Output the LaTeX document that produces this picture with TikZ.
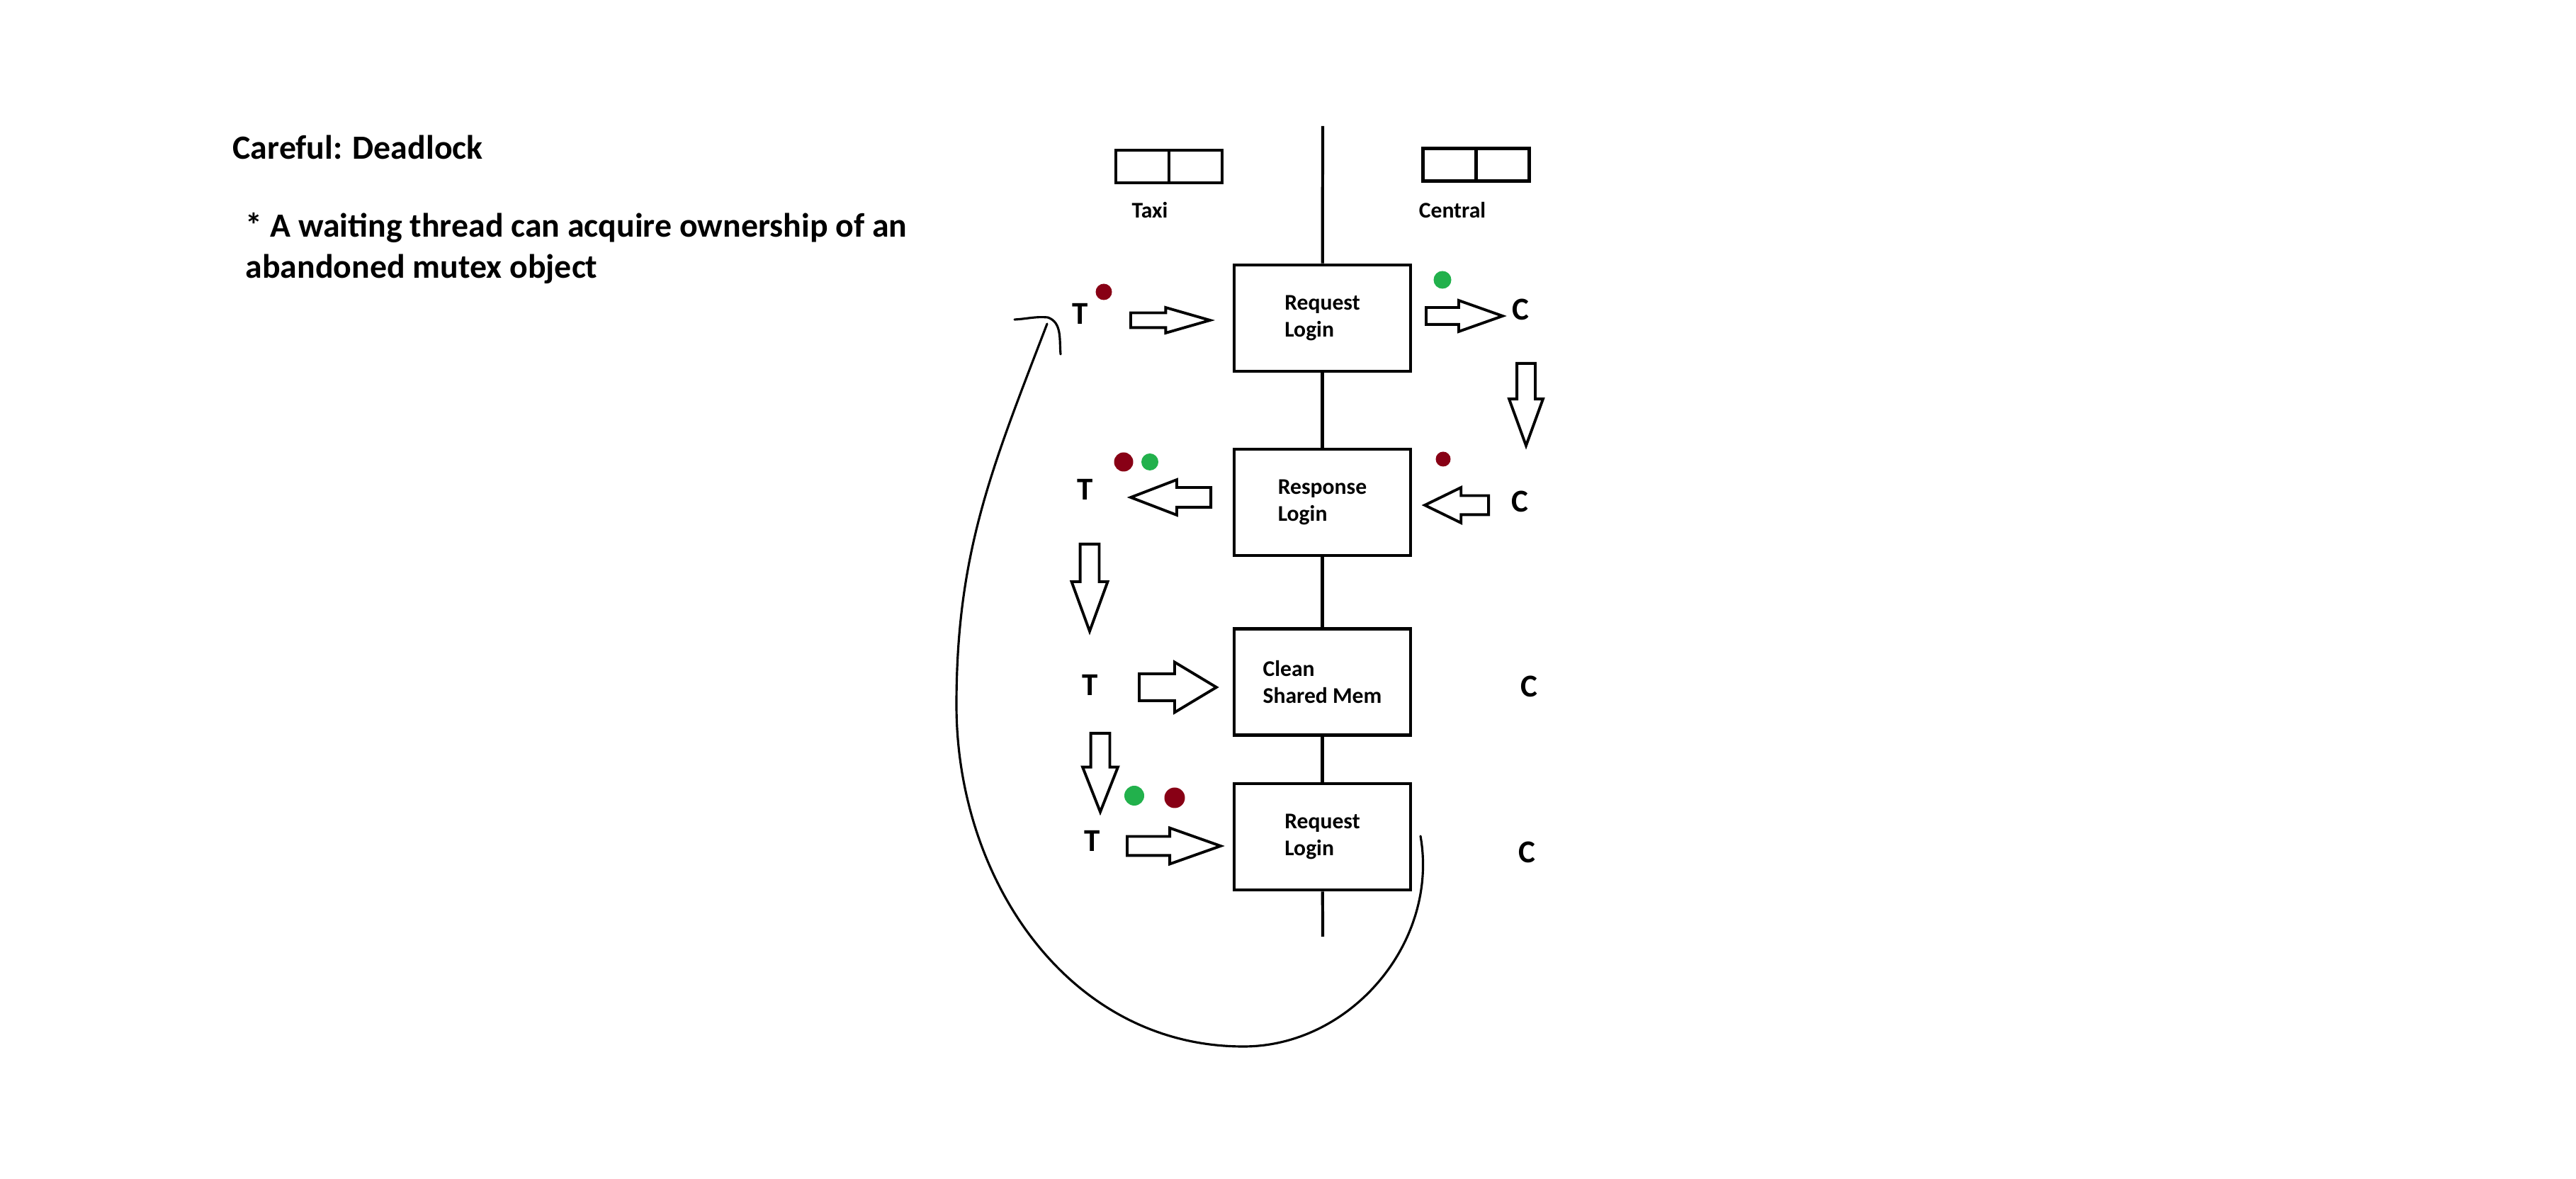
\documentclass[tikz,border=0pt]{standalone}
\usepackage{fontspec}
\setmainfont{Carlito}
\usepackage{tikz}
\usetikzlibrary{shapes.arrows}

\definecolor{mutexred}{RGB}{136,0,21}
\definecolor{mutexgreen}{RGB}{34,177,76}

\tikzset{
  msgbox/.style={draw, line width=1.3pt, minimum width=2.49cm, minimum height=1.5cm, align=left, font=\fontsize{9}{11}\selectfont\bfseries},
  cell/.style={draw, line width=1.3pt, minimum width=0.75cm, minimum height=0.46cm, inner sep=0pt},
  side/.style={font=\fontsize{12.8}{15}\selectfont\bfseries},
  small/.style={font=\fontsize{9}{11}\selectfont\bfseries},
  note/.style={anchor=base west, inner sep=0pt, font=\fontsize{13.6}{16.4}\selectfont\bfseries},
  fat/.style={single arrow, draw, anchor=tail, line width=1.1pt, inner xsep=0pt, inner ysep=0.11cm, single arrow head extend=0.11cm, single arrow tip angle=40},
  reddot/.style={circle, fill=mutexred, inner sep=0pt, minimum size=0.24cm},
  greendot/.style={circle, fill=mutexgreen, inner sep=0pt, minimum size=0.24cm},
  backline/.style={line width=0.9pt, line cap=round},
}

\begin{document}
\begin{tikzpicture}
  \useasboundingbox (0,0) rectangle (36.36,-16.64);

  \draw (3.28,-2.25) node[note] (title) {Careful: Deadlock};
  \draw (3.46,-3.35) node[note] (warn1) {* A waiting thread can acquire ownership of an};
  \draw (3.46,-3.93) node[note] (warn2) {abandoned mutex object};

  \draw (16.125,-2.35) node[cell] (taxiA) {};
  \draw (16.875,-2.35) node[cell] (taxiB) {};
  \draw (20.46,-2.325) node[cell] (centralA) {};
  \draw (21.21,-2.325) node[cell] (centralB) {};
  \draw (16.23,-2.97) node[small] (taxi) {Taxi};
  \draw (20.50,-2.97) node[small] (central) {Central};

  \draw (18.665,-4.49) node[msgbox] (req1) {Request\\Login};
  \draw (18.665,-7.09) node[msgbox] (resp) {Response\\Login};
  \draw (18.665,-9.625) node[msgbox] (clean) {Clean\\Shared Mem};
  \draw (18.665,-11.81) node[msgbox] (req2) {Request\\Login};
  \coordinate (top) at (18.67,-1.78);
  \coordinate (bottom) at (18.67,-13.22);

  \path[-, line width=1.2pt] (top) edge (req1);
  \path[-, line width=1.2pt] (req1) edge (resp);
  \path[-, line width=1.2pt] (resp) edge (clean);
  \path[-, line width=1.2pt] (clean) edge (req2);
  \path[-, line width=1.2pt] (req2) edge (bottom);

  \draw (15.25,-4.43) node[side] (t1) {T};
  \draw (15.32,-6.91) node[side] (t2) {T};
  \draw (15.39,-9.67) node[side] (t3) {T};
  \draw (15.42,-11.87) node[side] (t4) {T};
  \draw (21.46,-4.37) node[side] (c1) {C};
  \draw (21.45,-7.08) node[side] (c2) {C};
  \draw (21.58,-9.69) node[side] (c3) {C};
  \draw (21.55,-12.03) node[side] (c4) {C};

  \draw (15.94,-4.52) node[fat, minimum height=1.12cm, inner ysep=0.085cm, single arrow head extend=0.075cm, single arrow tip angle=32] (a1) {};
  \draw (20.11,-4.46) node[fat, minimum height=1.08cm, inner ysep=0.10cm, single arrow head extend=0.10cm, single arrow tip angle=39] (a2) {};
  \draw (21.54,-5.11) node[fat, minimum height=1.16cm, rotate=-90] (a3) {};
  \draw (21.03,-7.13) node[fat, minimum height=0.90cm, inner ysep=0.115cm, single arrow head extend=0.115cm, single arrow tip angle=52, rotate=180] (a4) {};
  \draw (17.11,-7.02) node[fat, minimum height=1.13cm, inner ysep=0.12cm, single arrow tip angle=42, rotate=180] (a5) {};
  \draw (15.38,-7.66) node[fat, minimum height=1.23cm, inner ysep=0.115cm, single arrow head extend=0.12cm, rotate=-90] (a6) {};
  \draw (16.06,-9.70) node[fat, minimum height=1.09cm, inner ysep=0.17cm, single arrow head extend=0.165cm, single arrow tip angle=62] (a7) {};
  \draw (15.53,-10.33) node[fat, minimum height=1.11cm, inner ysep=0.115cm, single arrow head extend=0.115cm, single arrow tip angle=43, rotate=-90] (a8) {};
  \draw (15.89,-11.94) node[fat, minimum height=1.32cm, inner ysep=0.115cm, single arrow head extend=0.12cm, single arrow tip angle=39] (a9) {};

  \draw (15.58,-4.12) node[reddot, minimum size=0.23cm] (d1) {};
  \draw (20.36,-3.95) node[greendot, minimum size=0.25cm] (d2) {};
  \draw (20.37,-6.48) node[reddot, minimum size=0.21cm] (d3) {};
  \draw (15.86,-6.52) node[reddot, minimum size=0.27cm] (d4) {};
  \draw (16.23,-6.52) node[greendot] (d5) {};
  \draw (16.01,-11.23) node[greendot, minimum size=0.28cm] (d6) {};
  \draw (16.58,-11.26) node[reddot, minimum size=0.29cm] (d7) {};

  \coordinate (loopstart) at (20.05,-11.80);
  \coordinate (loopbottom) at (17.55,-14.77);
  \coordinate (loopleft) at (13.50,-9.95);
  \coordinate (looptip) at (14.78,-4.57);
  \coordinate (hookL) at (14.32,-4.51);
  \coordinate (hooktop) at (14.79,-4.48);
  \coordinate (hookR) at (14.97,-5.00);
  \draw[backline] (loopstart) to[out=-80,in=0] (loopbottom) to[out=180,in=-90] (loopleft) to[out=90,in=-111] (looptip);
  \draw[backline] (hookL) to[out=3,in=175] (hooktop) to[out=-20,in=95] (hookR);
\end{tikzpicture}
\end{document}
